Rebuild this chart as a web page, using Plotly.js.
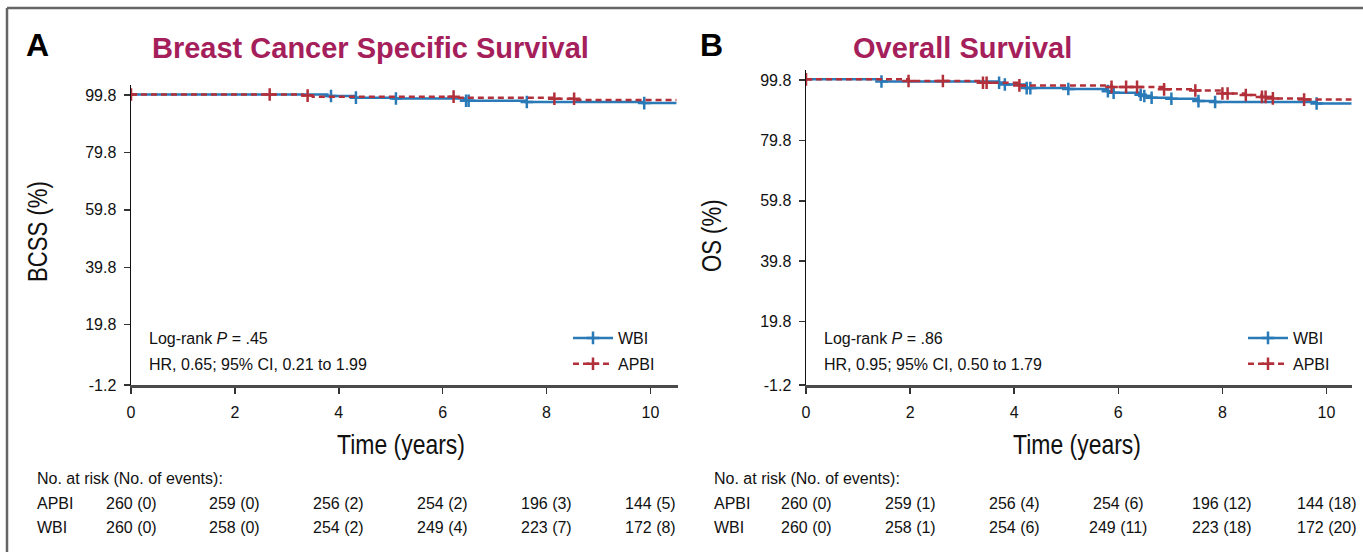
<!DOCTYPE html>
<html>
<head>
<meta charset="utf-8">
<script src="https://cdn.plot.ly/plotly-3.0.1.min.js"></script>
<style>
  html, body { margin: 0; padding: 0; background: #fff; }
  #chart { width: 1363px; height: 552px; }
</style>
</head>
<body>
<div id="chart"></div>
<script>
// ---------------- data ----------------
const riskTimes = [0, 2, 4, 6, 8, 10];
const xTickVals = [0, 2, 4, 6, 8, 10];
const yTickVals = [-1.2, 19.8, 39.8, 59.8, 79.8, 99.8];

const bcssApbiAtRisk = [260, 259, 256, 254, 196, 144];
const bcssApbiEvents = [0, 0, 2, 2, 3, 5];
const bcssWbiAtRisk  = [260, 258, 254, 249, 223, 172];
const bcssWbiEvents  = [0, 0, 2, 4, 7, 8];

const osApbiAtRisk = [260, 259, 256, 254, 196, 144];
const osApbiEvents = [0, 1, 4, 6, 12, 18];
const osWbiAtRisk  = [260, 258, 254, 249, 223, 172];
const osWbiEvents  = [0, 1, 6, 11, 18, 20];

// Kaplan-Meier step curves (time in years, survival %)
const bcssWbiTime   = [0, 3.78, 4.3, 5.05, 6.42, 7.6, 9.85, 10.5];
const bcssWbiSurv   = [100, 99.45, 98.9, 98.6, 97.8, 97.4, 97.0, 97.0];
const bcssWbiCensor = [3.85, 4.33, 5.1, 6.45, 6.5, 7.62, 9.88];

const bcssApbiTime   = [0, 3.3, 3.5, 6.25, 8.15, 8.55, 10.5];
const bcssApbiSurv   = [100, 99.6, 99.25, 98.9, 98.5, 98.1, 98.1];
const bcssApbiCensor = [0, 2.67, 3.4, 6.21, 8.15, 8.53];

const osWbiTime   = [0, 1.45, 3.7, 3.82, 4.24, 5.04, 5.8, 5.91, 6.43, 6.5, 6.64, 7.02, 7.54, 7.86, 9.81, 10.48];
const osWbiSurv   = [100, 99.3, 98.9, 98.3, 97.1, 96.8, 96.1, 95.6, 94.9, 94.5, 93.9, 93.6, 92.8, 92.5, 92.0, 92.0];
const osWbiCensor = [1.45, 3.71, 3.82, 4.24, 4.31, 5.04, 5.8, 5.91, 6.43, 6.5, 6.64, 7.02, 7.54, 7.86, 9.81];

const osApbiTime   = [0, 1.97, 3.4, 4.1, 5.87, 6.88, 7.48, 8.0, 8.45, 8.76, 8.97, 9.57, 10.48];
const osApbiSurv   = [100, 99.45, 98.9, 98.0, 97.5, 96.7, 96.3, 95.3, 94.8, 94.2, 93.7, 93.3, 93.3];
const osApbiCensor = [0, 1.97, 2.63, 3.4, 3.47, 4.1, 5.87, 6.15, 6.36, 6.88, 7.48, 8.0, 8.1, 8.45, 8.76, 8.83, 8.97, 9.57];

// ---------------- styling ----------------
const W = 1363, H = 552;
const BLUE = '#2a7ab8';
const RED = '#b2303a';
const TITLE_COLOR = '#a5205b';
const FONT = '"Liberation Sans", Arial, Helvetica, sans-serif';
const px = x => x / W;
const py = y => 1 - y / H;

function survAt(times, surv, t) {
  let v = surv[0];
  for (let i = 0; i < times.length; i++) { if (times[i] <= t) v = surv[i]; }
  return v;
}

function curveTraces(times, surv, censor, color, dash, xa, ya) {
  return [
    { x: times, y: surv, xaxis: xa, yaxis: ya, type: 'scatter', mode: 'lines',
      line: { color: color, width: 2.5, shape: 'hv', dash: dash }, showlegend: false, hoverinfo: 'skip' },
    { x: censor, y: censor.map(t => survAt(times, surv, t)), xaxis: xa, yaxis: ya, type: 'scatter', mode: 'markers',
      marker: { symbol: 'cross-thin-open', size: 9, color: color, line: { color: color, width: 2.5 } },
      showlegend: false, hoverinfo: 'skip' }
  ];
}

function legendTrace(name, color, dash, legend) {
  return { x: [null], y: [null], type: 'scatter', mode: 'lines+markers', name: name,
    legend: legend, legendgroup: name + legend,
    line: { color: color, width: 2.5, dash: dash },
    marker: { symbol: 'cross-thin-open', size: 9, color: color, line: { color: color, width: 2.5 } } };
}

const DASH = '6px,4px';

const traces = [
  ...curveTraces(bcssWbiTime, bcssWbiSurv, bcssWbiCensor, BLUE, 'solid', 'x', 'y'),
  ...curveTraces(bcssApbiTime, bcssApbiSurv, bcssApbiCensor, RED, DASH, 'x', 'y'),
  ...curveTraces(osWbiTime, osWbiSurv, osWbiCensor, BLUE, 'solid', 'x2', 'y2'),
  ...curveTraces(osApbiTime, osApbiSurv, osApbiCensor, RED, DASH, 'x2', 'y2'),
  legendTrace('WBI', BLUE, 'solid', 'legend'),
  legendTrace('APBI', RED, DASH, 'legend'),
  legendTrace('WBI', BLUE, 'solid', 'legend2'),
  legendTrace('APBI', RED, DASH, 'legend2')
];

function xAxis(domain, rangeMax, anchor) {
  return { domain: domain, range: [0, rangeMax], anchor: anchor, tickvals: xTickVals,
    ticktext: xTickVals.map(String), showline: true, linecolor: '#4a4a4a', linewidth: 3,
    ticks: 'outside', ticklen: 6, tickwidth: 1.5, tickcolor: '#333', ticklabelstandoff: 5,
    showgrid: false, zeroline: false, fixedrange: true,
    tickfont: { family: FONT, size: 16, color: '#111' } };
}
function yAxis(domain, rangeMax, anchor) {
  return { domain: domain, range: [-1.2, rangeMax], anchor: anchor, tickvals: yTickVals,
    ticktext: yTickVals.map(v => v.toFixed(1)), showline: true, linecolor: '#111', linewidth: 1.5,
    ticks: 'outside', ticklen: 6, tickwidth: 1.5, tickcolor: '#333', ticklabelstandoff: 4,
    showgrid: false, zeroline: false, fixedrange: true,
    tickfont: { family: FONT, size: 16, color: '#111' } };
}

const annotations = [];
function addText(text, x, y, opts) {
  annotations.push(Object.assign({ text: text, x: px(x), y: py(y), xref: 'paper', yref: 'paper',
    showarrow: false, xanchor: 'left', yanchor: 'middle',
    font: { family: FONT, size: 16, color: '#111' } }, opts || {}));
}

// panel letters & titles
addText('<b>A</b>', 37, 45, { xanchor: 'center', font: { family: FONT, size: 32, color: '#000' } });
addText('<b>B</b>', 711, 45, { xanchor: 'center', font: { family: FONT, size: 32, color: '#000' } });
addText('<b>Breast Cancer Specific Survival</b>', 370, 48, { xanchor: 'center', font: { family: FONT, size: 29, color: TITLE_COLOR } });
addText('<b>Overall Survival</b>', 962, 48, { xanchor: 'center', font: { family: FONT, size: 29, color: TITLE_COLOR } });

// axis titles (condensed look applied after render)
const narrowFirst = annotations.length;
addText('BCSS (%)', 38, 232, { xanchor: 'center', textangle: -90, font: { family: FONT, size: 27, color: '#111' } });
addText('OS (%)', 712, 236, { xanchor: 'center', textangle: -90, font: { family: FONT, size: 27, color: '#111' } });
addText('Time (years)', 401, 444, { xanchor: 'center', font: { family: FONT, size: 28, color: '#111' } });
addText('Time (years)', 1077, 444, { xanchor: 'center', font: { family: FONT, size: 28, color: '#111' } });
const narrowLast = annotations.length;

// statistics
addText('Log-rank <i>P</i> = .45', 147, 338);
addText('HR, 0.65; 95% CI, 0.21 to 1.99', 147, 364);
addText('Log-rank <i>P</i> = .86', 822, 338);
addText('HR, 0.95; 95% CI, 0.50 to 1.79', 822, 364);

// risk tables
function riskTable(xref, labelX, apbiN, apbiE, wbiN, wbiE) {
  addText('No. at risk (No. of events):', labelX, 478);
  addText('APBI', labelX, 503);
  addText('WBI', labelX, 527);
  riskTimes.forEach((t, i) => {
    annotations.push({ text: apbiN[i] + ' (' + apbiE[i] + ')', x: t, xref: xref, y: py(503), yref: 'paper',
      showarrow: false, xanchor: 'center', yanchor: 'middle', font: { family: FONT, size: 16, color: '#111' } });
    annotations.push({ text: wbiN[i] + ' (' + wbiE[i] + ')', x: t, xref: xref, y: py(527), yref: 'paper',
      showarrow: false, xanchor: 'center', yanchor: 'middle', font: { family: FONT, size: 16, color: '#111' } });
  });
}
riskTable('x', 35, bcssApbiAtRisk, bcssApbiEvents, bcssWbiAtRisk, bcssWbiEvents);
riskTable('x2', 712, osApbiAtRisk, osApbiEvents, osWbiAtRisk, osWbiEvents);

const legendBase = { bgcolor: 'rgba(0,0,0,0)', borderwidth: 0, xanchor: 'left', yanchor: 'top',
  tracegroupgap: 2, itemwidth: 40, font: { family: FONT, size: 16, color: '#111' }, itemclick: false, itemdoubleclick: false };

const layout = {
  width: W, height: H,
  margin: { l: 0, r: 0, t: 0, b: 0 },
  paper_bgcolor: '#fff', plot_bgcolor: '#fff',
  showlegend: true,
  xaxis: xAxis([px(131), px(678)], 10.53, 'y'),
  yaxis: yAxis([py(385), py(85)], 103.3, 'x'),
  xaxis2: xAxis([px(806), px(1352)], 10.49, 'y2'),
  yaxis2: yAxis([py(385), py(70)], 103.1, 'x2'),
  legend: Object.assign({}, legendBase, { x: px(568), y: py(321) }),
  legend2: Object.assign({}, legendBase, { x: px(1243), y: py(321) }),
  annotations: annotations,
  shapes: [
    { type: 'line', xref: 'paper', yref: 'paper', x0: px(7), x1: 1, y0: py(8), y1: py(8), line: { color: '#666', width: 2.5 } },
    { type: 'line', xref: 'paper', yref: 'paper', x0: px(7), x1: px(7), y0: py(8), y1: 0, line: { color: '#666', width: 2.5 } }
  ]
};

Plotly.newPlot('chart', traces, layout, { displayModeBar: false, staticPlot: true }).then(gd => {
  // give the axis titles the condensed look of the original figure
  const groups = gd.querySelectorAll('.annotation');
  for (let i = narrowFirst; i < narrowLast; i++) {
    const t = groups[i] && groups[i].querySelector('text');
    if (t) {
      t.style.transformBox = 'fill-box';
      t.style.transformOrigin = 'center';
      t.style.transform = 'scaleX(0.82)';
    }
  }
});
</script>
</body>
</html>
